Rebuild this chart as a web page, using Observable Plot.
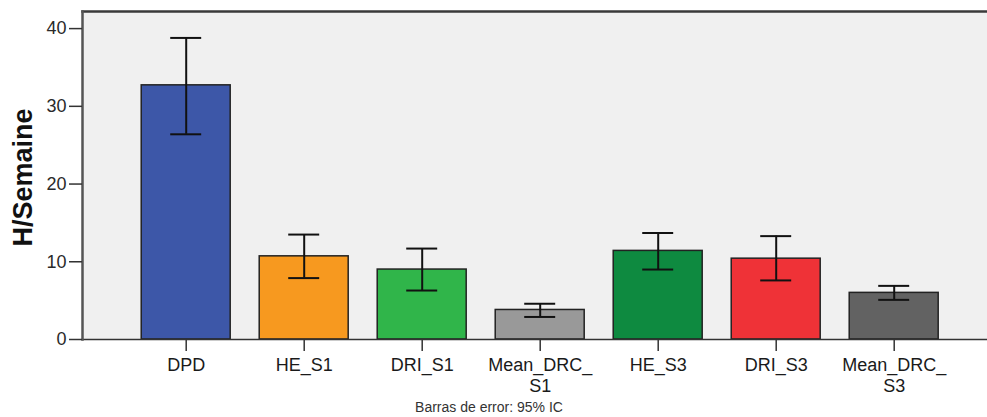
<!DOCTYPE html>
<html><head><meta charset="utf-8">
<script src="https://cdn.jsdelivr.net/npm/d3@7"></script>
<script src="https://cdn.jsdelivr.net/npm/@observablehq/plot@0.6"></script>
<style>body{margin:0;background:#fff}</style>
</head><body><div id="chart"></div>
<script>
const categories = ["DPD", "HE_S1", "DRI_S1", "Mean_DRC_S1", "HE_S3", "DRI_S3", "Mean_DRC_S3"];
const tickLabels = ["DPD", "HE_S1", "DRI_S1", "Mean_DRC_\nS1", "HE_S3", "DRI_S3", "Mean_DRC_\nS3"];
const means = [32.7, 10.7, 9.0, 3.8, 11.4, 10.4, 6.0];
const ciLow = [26.4, 7.9, 6.3, 2.9, 9.0, 7.6, 5.1];
const ciHigh = [38.8, 13.5, 11.7, 4.6, 13.7, 13.3, 6.9];
const barColors = ["#3d57a8", "#f7991f", "#30b54a", "#999999", "#0e8a40", "#ef3237", "#626262"];
const yTicks = [0, 10, 20, 30, 40];
const yMax = 42.2;
const yLabel = "H/Semaine";
const caption = "Barras de error: 95% IC";

const data = categories.map((c, i) => ({cat: c, mean: means[i], lo: ciLow[i], hi: ciHigh[i], color: barColors[i]}));

const plot = Plot.plot({
  width: 987, height: 417,
  marginLeft: 82, marginRight: 0, marginTop: 11, marginBottom: 78,
  style: {fontFamily: "Arial, 'Liberation Sans', sans-serif", background: "white", overflow: "visible", color: "#1a1a1a"},
  x: {domain: categories, insetLeft: 44.7, insetRight: 34.3, paddingInner: 0.246, paddingOuter: 0.123, round: false, label: null},
  y: {domain: [0, yMax], label: null},
  marks: [
    Plot.frame({fill: "#f0f0f0", stroke: null}),
    Plot.barY(data, {x: "cat", y: "mean", fill: "color", stroke: "#222", strokeWidth: 1.5}),
    Plot.ruleX(data, {x: "cat", y1: "lo", y2: "hi", stroke: "#111", strokeWidth: 2}),
    Plot.tickY(data, {x: "cat", y: "lo", inset: 29, stroke: "#111", strokeWidth: 2}),
    Plot.tickY(data, {x: "cat", y: "hi", inset: 29, stroke: "#111", strokeWidth: 2}),
    Plot.ruleY([0], {stroke: "#333", strokeWidth: 1.5}),
    Plot.frame({anchor: "top", stroke: "#3a3a3a", strokeWidth: 2.5}),
    Plot.frame({anchor: "left", stroke: "#555", strokeWidth: 2.5}),
    Plot.axisY({ticks: yTicks, tickSize: 13, tickPadding: 3, fontSize: 18, stroke: "#333", strokeWidth: 1.5, fill: "#2a2a2a", label: null}),
    Plot.axisX({tickSize: 12, tickPadding: 5, fontSize: 18, stroke: "#333", strokeWidth: 1.5, lineHeight: 1.15, fill: "#1a1a1a",
      tickFormat: d => tickLabels[categories.indexOf(d)], label: null}),
    Plot.text([yLabel], {frameAnchor: "left", textAnchor: "middle", rotate: -90, dx: -59, dy: 2, fontSize: 27, fontWeight: "bold", fill: "#111"}),
    Plot.text([caption], {frameAnchor: "bottom", lineAnchor: "middle", dy: 68, dx: -46, fontSize: 14, fill: "#333"})
  ]
});
document.getElementById("chart").append(plot);
</script>
</body></html>
